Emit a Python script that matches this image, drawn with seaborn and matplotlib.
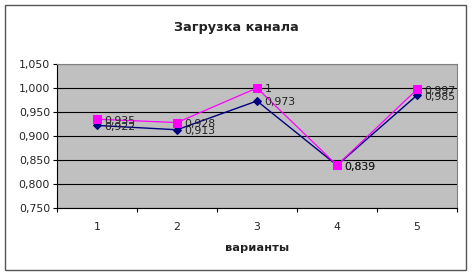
import matplotlib
matplotlib.use("Agg")
import matplotlib.pyplot as plt
import seaborn as sns
import pandas as pd
import numpy as np
from matplotlib.ticker import FixedLocator, NullFormatter

categories = ["1", "2", "3", "4", "5"]
series_a = [0.922, 0.913, 0.973, 0.839, 0.985]   # navy diamonds
series_b = [0.935, 0.928, 1.000, 0.839, 0.997]   # magenta squares
label_a = ["0,922", "0,913", "0,973", "0,839", "0,985"]
label_b = ["0,935", "0,928", "1", "0,839", "0,997"]
y_ticks = [0.75, 0.80, 0.85, 0.90, 0.95, 1.00, 1.05]
y_tick_labels = ["0,750", "0,800", "0,850", "0,900", "0,950", "1,000", "1,050"]

sns.set_theme(style="white")
plt.rcParams['font.family'] = ['DejaVu Sans']

fig = plt.figure(figsize=(4.72, 2.75), dpi=100)
ax = fig.add_axes([57/472, 1 - 208/275, 400/472, 144/275])

df = pd.DataFrame({"x": np.arange(len(categories)), "a": series_a, "b": series_b})
sns.lineplot(data=df, x="x", y="a", ax=ax, color="#000080", lw=1.0,
             marker="D", markersize=4, markeredgecolor="#000080", zorder=3)
sns.lineplot(data=df, x="x", y="b", ax=ax, color="#FF00FF", lw=0.9,
             marker="s", markersize=5.5, markeredgecolor="#FF00FF", zorder=4)

for i in range(len(categories)):
    ax.annotate(label_b[i], (i, series_b[i]), xytext=(5.5, -1), textcoords="offset points",
                fontsize=7.8, va="center", ha="left", color="#222222", zorder=5)
    ax.annotate(label_a[i], (i, series_a[i]), xytext=(5.5, -1), textcoords="offset points",
                fontsize=7.8, va="center", ha="left", color="#222222", zorder=5)

ax.set_facecolor("#C0C0C0")
ax.set_xlim(-0.5, len(categories) - 0.5)
ax.set_ylim(0.75, 1.05)
ax.set_yticks(y_ticks)
ax.set_yticklabels(y_tick_labels, fontsize=7.8, color="#222222")
ax.yaxis.grid(True, color="black", lw=0.8)
ax.set_axisbelow(True)

ax.set_xticks(np.arange(len(categories)))
ax.set_xticklabels(categories, fontsize=7.8, color="#222222")
ax.tick_params(axis="x", which="major", length=0, pad=10)
ax.xaxis.set_minor_locator(FixedLocator(np.arange(-0.5, len(categories), 1.0)))
ax.xaxis.set_minor_formatter(NullFormatter())
ax.tick_params(axis="x", which="minor", length=3, width=0.8, color="black", direction="out", bottom=True)
ax.tick_params(axis="y", which="major", length=3, width=0.8, color="black", direction="out", left=True, pad=2)

for s in ["top", "right"]:
    ax.spines[s].set_color("#808080")
    ax.spines[s].set_linewidth(0.8)
for s in ["left", "bottom"]:
    ax.spines[s].set_color("black")
    ax.spines[s].set_linewidth(0.8)

ax.set_xlabel("варианты", fontsize=8.2, fontweight="bold", labelpad=8, color="#222222")
ax.set_ylabel("")
fig.text(236/472, 1 - 27/275, "Загрузка канала", ha="center", va="center",
         fontsize=9.3, fontweight="bold", color="#222222")

border = plt.Rectangle((5/472, 5/275), 461/472, 265/275, transform=fig.transFigure,
                       fill=False, edgecolor="#555555", lw=1.0)
fig.add_artist(border)

fig.savefig("out.png", dpi=100, facecolor="white")
